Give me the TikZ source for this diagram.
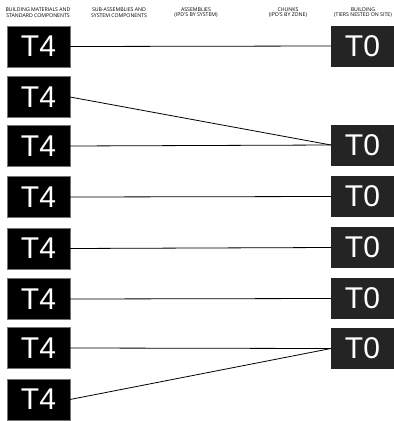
\documentclass[tikz,border=0pt]{standalone}
\usepackage{fontspec}
\setmainfont{Liberation Sans}
\newfontfamily\headfont{Open Sans}
\usepackage{tikz}
\usetikzlibrary{positioning}

\tikzset{
  tierfour/.style={rectangle, fill=black, draw=black!55, line width=0.4pt,
    minimum width=63pt, minimum height=41pt, inner sep=0pt, outer sep=0pt,
    text=white, font=\fontsize{30}{30}\selectfont},
  tierzero/.style={tierfour, fill=black!86, draw=none},
  colhead/.style={font=\headfont\fontsize{5.2}{5.6}\selectfont, align=center, text=black},
  link/.style={black, line width=0.8pt}
}

\begin{document}
\begin{tikzpicture}[x=1pt, y=-1pt]
        \useasboundingbox (0,0) rectangle (394,421);
        % Column headings
        \node[colhead] (h1) at (38,12.5) {BUILDING MATERIALS AND\\STANDARD COMPONENTS};
        \node[colhead] (h2) at (119,12.5) {SUB-ASSEMBLIES AND\\SYSTEM COMPONENTS};
        \node[colhead] (h3) at (196,12.5) {ASSEMBLIES\\(IPD'S BY SYSTEM)};
        \node[colhead] (h4) at (288,12.5) {CHUNKS\\(IPD'S BY ZONE)};
        \node[colhead] (h5) at (363,12.5) {BUILDING\\(TIERS NESTED ON SITE)};
        % Tier 4 boxes (left column)
        \node[tierfour] (l1) at (38.5,46.5) {T4};
        \node[tierfour] (l2) at (38.5,97) {T4};
        \node[tierfour] (l3) at (38.5,146) {T4};
        \node[tierfour] (l4) at (38.5,197) {T4};
        \node[tierfour] (l5) at (38.5,248.5) {T4};
        \node[tierfour] (l6) at (38.5,299) {T4};
        \node[tierfour] (l7) at (38.5,348) {T4};
        \node[tierfour] (l8) at (38.5,399.5) {T4};
        % Tier 0 boxes (right column)
        \node[tierzero] (r1) at (362.5,46) {T0};
        \node[tierzero] (r2) at (362.5,145) {T0};
        \node[tierzero] (r3) at (362.5,196.5) {T0};
        \node[tierzero] (r4) at (362.5,247.5) {T0};
        \node[tierzero] (r5) at (362.5,298.5) {T0};
        \node[tierzero] (r6) at (362.5,348.5) {T0};
        % Connectors
        \draw[link] (l1.east) -- (r1.west);
        \draw[link] (l2.east) -- (r2.west);
        \draw[link] (l3.east) -- (r2.west);
        \draw[link] (l4.east) -- (r3.west);
        \draw[link] (l5.east) -- (r4.west);
        \draw[link] (l6.east) -- (r5.west);
        \draw[link] (l7.east) -- (r6.west);
        \draw[link] (l8.east) -- (r6.west);
      \end{tikzpicture}
\end{document}
